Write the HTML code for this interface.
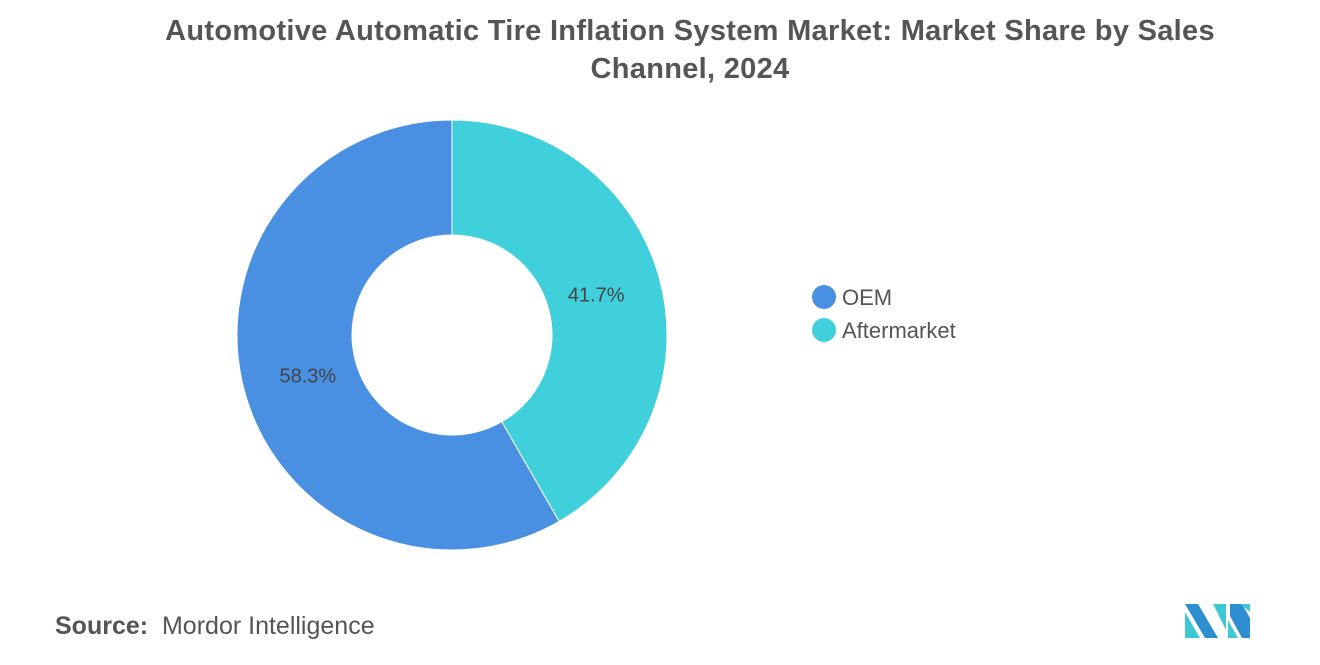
<!DOCTYPE html>
<html><head><meta charset="utf-8"><style>
body{margin:0;width:1320px;height:665px;background:#fff;font-family:"Liberation Sans",sans-serif;overflow:hidden;position:relative}
#title{position:absolute;left:0;width:1380px;top:12px;text-align:center;font-size:29px;font-weight:bold;color:#555;line-height:38px;letter-spacing:0.3px}
#src{position:absolute;left:55px;top:612px;font-size:25px;color:#555}
</style></head><body>
<div id="title">Automotive Automatic Tire Inflation System Market: Market Share by Sales<br>Channel, 2024</div>
<svg width="1320" height="665" style="position:absolute;left:0;top:0">
<g id="donut"></g>
<g font-size="22" fill="#555">
<g><circle cx="824" cy="297" r="12" fill="#4a90e2"/><text x="842" y="305">OEM</text></g>
<g><circle cx="824" cy="330" r="12" fill="#40d0db"/><text x="842" y="338">Aftermarket</text></g>
</g>
<g>
<polygon points="1185,604 1198,604 1218,638 1205,638" fill="#2d8fcf"/>
<polygon points="1185,612 1200,638 1185,638" fill="#3fc7d3"/>
<polygon points="1213,604 1226,604 1226,630" fill="#3fc7d3"/>
<polygon points="1230,604 1242,604 1250,618 1250,638 1242,638 1230,616" fill="#2d8fcf"/>
<polygon points="1228,620 1238,638 1228,638" fill="#3fc7d3"/>
<polygon points="1240,604 1250,604 1250,612" fill="#3fc7d3"/>
</g>
</svg>
<div id="src"><b>Source:</b>&nbsp; Mordor Intelligence</div>
<script>
const categories=["Aftermarket","OEM"];
const values=[41.7,58.3];
const colors=["#40d0db","#4a90e2"];
const cx=452,cy=335,R=215,r=100;
const g=document.getElementById('donut');
const total=values.reduce((a,b)=>a+b,0);
let a0=0;
function pt(a,rad){return [cx+rad*Math.sin(a),cy-rad*Math.cos(a)];}
values.forEach((v,i)=>{
 const a1=a0+v/total*2*Math.PI;
 const lg=(a1-a0)>Math.PI?1:0;
 const p1=pt(a0,R),p2=pt(a1,R),p3=pt(a1,r),p4=pt(a0,r);
 const p=document.createElementNS('http://www.w3.org/2000/svg','path');
 p.setAttribute('d',`M${p1}A${R},${R} 0 ${lg} 1 ${p2}L${p3}A${r},${r} 0 ${lg} 0 ${p4}Z`);
 p.setAttribute('fill',colors[i]);p.setAttribute('stroke','#fff');p.setAttribute('stroke-width','1');
 
 
 g.appendChild(p);
 const m=(a0+a1)/2,lp=pt(m,(R+r)/2);
 const t=document.createElementNS('http://www.w3.org/2000/svg','text');
 t.setAttribute('x',lp[0]-8*Math.sign(Math.sin(m)));t.setAttribute('y',lp[1]+7);t.setAttribute('text-anchor','middle');
 t.setAttribute('font-size','20');t.setAttribute('fill','#444');
 t.textContent=v.toFixed(1)+'%';
 
 
 g.appendChild(t);
 a0=a1;
});
</script>
</body></html>
